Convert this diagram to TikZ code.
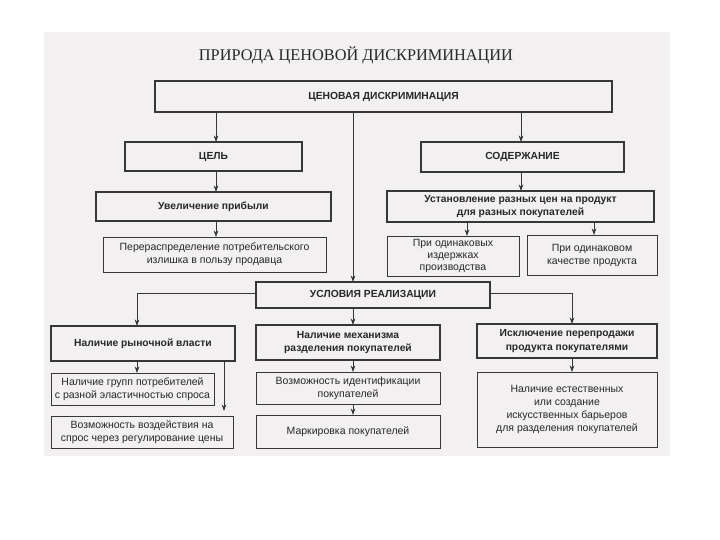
\documentclass[tikz,border=0pt]{standalone}
\usepackage{fontspec}
\setmainfont{Liberation Sans}
\newfontfamily\titlefont{Liberation Serif}
\usetikzlibrary{arrows.meta,calc}
\definecolor{paper}{RGB}{242,240,240}
\definecolor{ink}{RGB}{40,40,40}
\definecolor{lineink}{RGB}{55,55,55}
\newcommand\mybox[7]{\node[#1, minimum width={#5pt-#3pt}, minimum height={#6pt-#4pt}] (#2) at ({(#3+#5)/2},{(#4+#6)/2}) {#7};}
\begin{document}
\begin{tikzpicture}[x=1pt,y=-1pt,
  base/.style={draw=lineink, fill=paper, text=ink, align=center, inner sep=0pt, outer sep=0pt, font=\fontsize{10.5}{13}\selectfont},
  boldbox/.style={base, line width=2.4pt, font=\fontsize{10.3}{13.5}\selectfont\bfseries},
  thinbox/.style={base, line width=0.9pt},
  tight/.style={font=\fontsize{10.5}{12}\selectfont},
  arr/.style={draw=lineink, line width=0.8pt, -{Stealth[length=6.5pt,width=4.6pt]}}]
\useasboundingbox (0,0) rectangle (720,540);
\fill[paper] (44,32) rectangle (670,456);
\node[text=ink, font=\titlefont\fontsize{16.3}{18}\selectfont] (title) at (356,55) {ПРИРОДА ЦЕНОВОЙ ДИСКРИМИНАЦИИ};
\mybox{boldbox}{top}{155}{81}{612}{112}{ЦЕНОВАЯ ДИСКРИМИНАЦИЯ}
\mybox{boldbox}{cel}{125}{142}{302}{171}{ЦЕЛЬ}
\mybox{boldbox}{sod}{421}{142}{624}{172}{СОДЕРЖАНИЕ}
\mybox{boldbox}{uvel}{96}{192}{331}{221}{Увеличение прибыли}
\mybox{boldbox}{ust}{387}{191}{654}{222}{Установление разных цен на продукт\\для разных покупателей}
\mybox{thinbox}{perer}{103}{237}{326}{272}{Перераспределение потребительского\\излишка в пользу продавца}
\mybox{thinbox,tight}{prio1}{387}{236}{519}{276}{При одинаковых\\издержках\\производства}
\mybox{thinbox}{prio2}{527}{235}{657}{275}{При одинаковом\\качестве продукта}
\mybox{boldbox}{usl}{256}{282}{490}{308}{УСЛОВИЯ РЕАЛИЗАЦИИ}
\mybox{boldbox}{ryn}{51}{326}{235}{361}{Наличие рыночной власти}
\mybox{boldbox}{mech}{256}{325}{440}{360}{Наличие механизма\\разделения покупателей}
\mybox{boldbox}{iskl}{477}{324}{657}{358}{Исключение перепродажи\\продукта покупателями}
\mybox{thinbox}{grupp}{51}{373}{214}{405}{Наличие групп потребителей\\с разной эластичностью спроса}
\mybox{thinbox}{vozd}{51}{416}{233}{448}{Возможность воздействия на\\спрос через регулирование цены}
\mybox{thinbox}{ident}{256}{372}{440}{404}{Возможность идентификации\\покупателей}
\mybox{thinbox}{mark}{256}{415}{440}{448}{Маркировка покупателей}
\mybox{thinbox}{estest}{477}{372}{657}{447}{Наличие естественных\\или создание\\искусственных барьеров\\для разделения покупателей}
% column coordinates
\coordinate (cA) at (216,0);
\coordinate (cM) at (353,0);
\coordinate (cS) at (521,0);
\coordinate (cP1) at (467,0);
\coordinate (cP2) at (594,0);
\coordinate (cL) at (137,0);
\coordinate (cL2) at (224,0);
\coordinate (cR) at (572,0);
\coordinate (vend) at (224,411);
% connectors
\draw[arr] (top.south -| cA) -- (cel.north -| cA);
\draw[arr] (top.south -| cM) -- (usl.north -| cM);
\draw[arr] (top.south -| cS) -- (sod.north -| cS);
\draw[arr] (cel.south -| cA) -- (uvel.north -| cA);
\draw[arr] (uvel.south -| cA) -- (perer.north -| cA);
\draw[arr] (sod.south -| cS) -- (ust.north -| cS);
\draw[arr] (ust.south -| cP1) -- (prio1.north -| cP1);
\draw[arr] (ust.south -| cP2) -- (prio2.north -| cP2);
\draw[arr] ([yshift=2pt]usl.west) -| (ryn.north -| cL);
\draw[arr] ([yshift=2pt]usl.east) -| (iskl.north -| cR);
\draw[arr] (usl.south -| cM) -- (mech.north -| cM);
\draw[arr] (ryn.south -| cL) -- (grupp.north -| cL);
\draw[arr] (ryn.south -| cL2) -- (vend);
\draw[arr] (mech.south -| cM) -- (ident.north -| cM);
\draw[arr] (ident.south -| cM) -- (mark.north -| cM);
\draw[arr] (iskl.south -| cR) -- (estest.north -| cR);
\end{tikzpicture}
\end{document}
